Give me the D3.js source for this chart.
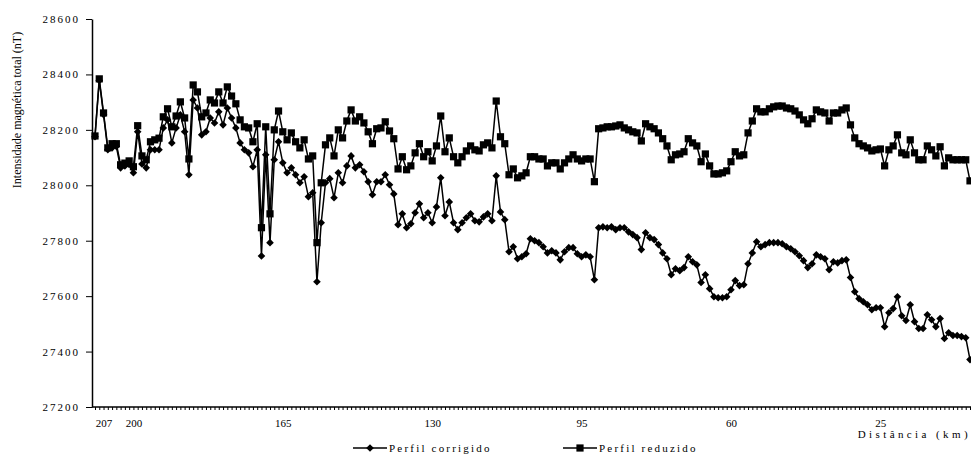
<!DOCTYPE html>
<html>
<head>
<meta charset="utf-8">
<script src="https://cdn.jsdelivr.net/npm/d3@7"></script>
<style>
  body { margin: 0; background: #fff; }
  text { font-family: "Liberation Serif", "Times New Roman", serif; fill: #000; }
</style>
</head>
<body>
<div id="chart"></div>
<script>
// Distance categories (km), one reading per km from 209 down to 4
const kmStart = 209, kmEnd = 4;
const kmLabels = [207, 200, 165, 130, 95, 60, 25];
const yTicks = [27200, 27400, 27600, 27800, 28000, 28200, 28400, 28600];

// Perfil corrigido (diamonds)
const corrigido = [
  28175, 28378, 28255, 28128, 28135, 28140, 28063, 28070, 28075, 28045,
  28193, 28077, 28063, 28128, 28128, 28128, 28207, 28236, 28153, 28207,
  28254, 28193, 28038, 28308, 28279, 28182, 28193, 28243, 28225, 28265,
  28218, 28279, 28243, 28207, 28153, 28128, 28117, 28067, 28128, 27745,
  28110, 27793, 28092, 28157, 28081, 28045, 28063, 28038, 28009, 28031,
  27959, 27973, 27652, 27865, 28009, 28024, 27955, 28045, 28009, 28070,
  28106, 28063, 28074, 28049, 28013, 27966, 28013, 28013, 28038, 28002,
  27969, 27858, 27897, 27847, 27861, 27901, 27933, 27883, 27901, 27865,
  27922, 28027, 27890, 27940, 27865, 27840, 27865, 27883, 27897, 27872,
  27868, 27886, 27897, 27872, 28034, 27904, 27876, 27760, 27778, 27735,
  27742, 27753, 27807, 27800, 27793, 27778, 27756, 27764, 27756, 27731,
  27760, 27775, 27775, 27753, 27742, 27749, 27742, 27659, 27847, 27850,
  27847, 27850, 27840, 27847, 27847, 27832, 27822, 27811, 27768, 27829,
  27811, 27804, 27786, 27756, 27735, 27677, 27699, 27692, 27703, 27742,
  27724, 27713, 27649, 27677, 27627, 27598, 27594, 27594, 27598, 27623,
  27656, 27638, 27641, 27717, 27756, 27796, 27778, 27786, 27793, 27793,
  27793, 27789, 27778, 27771, 27760, 27746, 27728, 27703, 27717, 27749,
  27742, 27735, 27695, 27724, 27720, 27728, 27731, 27667, 27616, 27591,
  27580, 27569, 27551, 27558, 27558, 27490, 27540, 27555, 27598, 27529,
  27512, 27569, 27508, 27483, 27483, 27533, 27515, 27490, 27519, 27447,
  27468, 27458, 27458, 27454, 27450, 27371
];

// Perfil reduzido (squares)
const reduzido = [
  28178, 28384, 28261, 28135, 28150, 28150, 28074, 28080, 28088, 28067,
  28215, 28106, 28092, 28157, 28164, 28170, 28247, 28276, 28211, 28250,
  28301, 28243, 28095, 28362, 28337, 28247, 28261, 28308, 28297, 28337,
  28297, 28355, 28322, 28294, 28236, 28211, 28207, 28157, 28222, 27847,
  28211, 27897, 28200, 28268, 28193, 28164, 28189, 28157, 28135, 28164,
  28095, 28106, 27793, 28009, 28146, 28171, 28106, 28200, 28171, 28232,
  28272, 28232, 28247, 28225, 28193, 28150, 28204, 28207, 28229, 28196,
  28168, 28059, 28103, 28056, 28070, 28117, 28150, 28103, 28121, 28088,
  28142, 28250, 28121, 28171, 28103, 28081, 28103, 28124, 28142, 28128,
  28124, 28146, 28153, 28135, 28304, 28175, 28150, 28038, 28059, 28027,
  28034, 28045, 28103, 28103, 28095, 28095, 28070, 28081, 28081, 28059,
  28081, 28095, 28110, 28095, 28088, 28095, 28095, 28013, 28204, 28207,
  28211, 28211, 28214, 28218, 28207, 28200, 28193, 28189, 28160, 28222,
  28211, 28204, 28189, 28168, 28142, 28092, 28110, 28113, 28121, 28168,
  28153, 28142, 28085, 28113, 28070, 28041, 28041, 28045, 28052, 28085,
  28121, 28106, 28110, 28189, 28232, 28276, 28265, 28265, 28276, 28283,
  28286, 28286, 28279, 28276, 28268, 28254, 28236, 28222, 28240, 28272,
  28265, 28261, 28232, 28261, 28261, 28272, 28279, 28218, 28171, 28150,
  28142, 28135, 28124, 28128, 28131, 28070, 28128, 28142, 28182, 28117,
  28110, 28164, 28117, 28092, 28092, 28142, 28128, 28106, 28139, 28070,
  28099, 28092, 28092, 28092, 28092, 28016
];

const km = d3.range(kmStart, kmEnd - 1, -1);

let width = 971,
    height = 455;

let margin = {
    top: 19,
    bottom: 48,
    left: 92,
    right: 0
};

let svg = d3.select('#chart')
    .append('svg')
    .attr('width', width)
    .attr('height', height);

// Scales
let xScale = d3.scaleLinear()
    .domain([kmStart, kmEnd])
    .range([95, 970]);

let yScale = d3.scaleLinear()
    .domain([27200, 28600])
    .range([height - margin.bottom, margin.top]);

// X axis: small tick at every km, labels on a few
let xAxis = svg.append("g")
    .attr("transform", `translate(0,${height - margin.bottom})`)
    .call(d3.axisBottom(xScale)
        .tickValues(km)
        .tickSize(3)
        .tickPadding(9)
        .tickFormat(d => kmLabels.includes(d) ? d : ""));
xAxis.select(".domain").remove();
xAxis.selectAll("text").style("font-size", "11px");
xAxis.selectAll("line").attr("stroke", "#000");

svg.append("line")
    .attr("x1", margin.left)
    .attr("x2", width - margin.right)
    .attr("y1", yScale(27200))
    .attr("y2", yScale(27200))
    .attr("stroke", "#000")
    .attr("stroke-width", 1.5);

// Y axis
let yAxis = svg.append("g")
    .attr("transform", `translate(${margin.left},0)`)
    .call(d3.axisLeft(yScale)
        .tickValues(yTicks)
        .tickSize(6)
        .tickSizeOuter(0)
        .tickPadding(6)
        .tickFormat(d3.format("d")));
yAxis.select(".domain").attr("stroke", "#000").attr("stroke-width", 1.5);
yAxis.selectAll("line").attr("stroke", "#000");
yAxis.selectAll("text")
    .style("font-size", "11px")
    .style("letter-spacing", "2px");

// Axis titles
svg.append("text")
    .attr("transform", "rotate(-90)")
    .attr("x", -110)
    .attr("y", 21)
    .attr("text-anchor", "middle")
    .style("font-size", "12px")
    .text("Intensidade magnética total (nT)");

svg.append("text")
    .attr("x", 971)
    .attr("y", 438)
    .attr("text-anchor", "end")
    .style("font-size", "11px")
    .style("letter-spacing", "3.4px")
    .text("Distância (km)");

// Lines
let line = d3.line()
    .x((d, i) => xScale(km[i]))
    .y(d => yScale(d));

const diamond = () => "M0,-3.8L3.8,0L0,3.8L-3.8,0Z";
const square = d3.symbol().type(d3.symbolSquare).size(52);

function drawSeries(values, symbol, cls) {
    svg.append("path")
        .datum(values)
        .attr("fill", "none")
        .attr("stroke", "#000")
        .attr("stroke-width", 1.5)
        .attr("d", line);

    svg.selectAll("." + cls)
        .data(values)
        .enter()
        .append("path")
        .attr("class", cls)
        .attr("transform", (d, i) => `translate(${xScale(km[i])},${yScale(d)})`)
        .attr("d", symbol)
        .attr("fill", "#000");
}

drawSeries(corrigido, diamond, "dia");
drawSeries(reduzido, square, "sq");

// Legend
const legend = [
    { name: "Perfil corrigido", symbol: diamond, x: 353 },
    { name: "Perfil reduzido", symbol: square, x: 563 }
];

let legendItem = svg.selectAll(".legend")
    .data(legend)
    .enter().append("g")
    .attr("class", "legend")
    .attr("transform", d => `translate(${d.x},448)`);

legendItem.append("line")
    .attr("x1", 0)
    .attr("x2", 34)
    .attr("stroke", "#000")
    .attr("stroke-width", 1.5);

legendItem.append("path")
    .attr("transform", "translate(17,0)")
    .attr("d", d => d.symbol())
    .attr("fill", "#000");

legendItem.append("text")
    .attr("x", 36)
    .attr("y", 4)
    .style("font-size", "11px")
    .style("letter-spacing", "2.2px")
    .text(d => d.name);
</script>
</body>
</html>
